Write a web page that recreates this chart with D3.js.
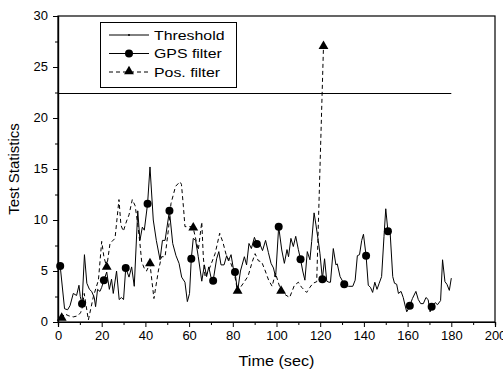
<!DOCTYPE html>
<html><head><meta charset="utf-8">
<script src="https://cdn.jsdelivr.net/npm/d3@7"></script>
<style>body{margin:0;background:#fff}svg{display:block;font-family:"Liberation Sans",Arial,sans-serif}</style>
</head><body><svg id="c" width="503" height="370"></svg>
<script>
const xTicks = [0,20,40,60,80,100,120,140,160,180,200];
const yTicks = [0,5,10,15,20,25,30];
const thresholdValue = 22.4;
const thresholdRange = [0,180];
const gpsT = [1,3,4.4,5.5,7,8.5,9.6,10.2,11,12.1,13.2,14.4,15.4,16.6,17.2,18.1,19.2,20,21,22.3,23.5,24.5,25.3,26.8,28,29,30,31,32.5,33.7,34.9,36.5,37.5,38.6,39.5,41,42.1,43.6,45,46.7,47.8,49,51,52.5,54,55.4,56.6,58.1,59.2,60.2,61,61.9,63,64.2,65.8,67,68,69,70,71,72.6,73.6,74.6,76,77.2,78,79.2,80.2,81,82.2,83.5,85.3,86.3,87.4,88.5,89.9,91,92.3,93.6,95,96.3,97.5,98.6,99.6,101,102.4,103.6,104.8,105.5,106.6,107.7,108.8,110,111,112,113,114.1,115.3,116.1,117.2,118,119.1,119.9,121,122,123,124,124.7,126,127.2,127.8,129.1,130,131,133,134.9,136,137,138,139,139.8,141,142,143,144,145,146,147,148.1,149.2,150,151,152,153.2,154,155,155.8,157,158,158.8,159.6,160.4,161,162.2,163.8,164.9,166,167.2,168.4,169.4,170.3,171,172.6,173.7,175.1,176,177.1,178,179.1,180];
const gpsV = [5.5,1.3,1.2,1.6,2.8,2.6,3.6,2.5,1.8,6.6,3.8,3.2,3.0,2.4,1.5,3.2,3.0,3.4,4.1,4.9,3.2,4.2,2.8,5.0,2.2,2.4,2.2,5.3,4.4,5.4,3.5,10.9,8.0,9.3,9.0,11.6,15.2,10.0,8.0,6.1,8.0,8.0,10.9,7.7,6.5,5.75,4.4,3.9,2.0,2.8,6.2,8.2,8.0,6.4,4.0,5.6,4.45,5.4,4.4,4.05,6.2,6.9,5.6,5.6,6.5,6.0,6.6,5.3,4.9,3.0,5.0,6.4,5.6,7.7,7.2,8.3,7.65,7.7,7.0,8.0,6.8,5.75,5.3,4.4,9.35,7.06,5.75,7.1,6.4,8.2,7.4,8.4,7.1,6.15,5.0,4.1,6.9,6.1,7.9,10.7,9.6,8.0,6.7,4.2,6.2,4.0,3.9,3.9,7.2,5.6,5.7,4.45,4.1,3.7,3.5,3.5,4.1,6.5,6.6,8.0,8.6,6.5,3.6,3.4,2.9,3.9,3.2,3.8,4.45,8.4,11.1,8.9,8.8,4.45,3.8,3.7,2.8,3.0,2.4,1.67,1.0,1.3,1.6,2.3,3.0,2.2,1.8,1.8,2.4,2.2,1.0,1.5,1.9,1.7,2.1,6.1,3.95,3.7,3.1,4.3];
const gpsMarkerT = [1,11,21,31,41,51,61,71,81,91,101,111,121,131,141,151,161,171];
const posT = [1.7,3,5,7,9,10.3,11,12,13.9,16.2,18.5,20,21,22.3,23.8,26.1,27.9,28.8,29.9,31.4,32.5,34,35.3,36.5,37.5,38.3,39.8,40.5,42.1,43.9,46,47.4,49,50.5,51.7,53.8,55.8,56.5,57.4,58.1,61.2,61.9,64.2,65.8,66.5,67.3,69.6,71.9,74,75.5,77.2,78.7,80.7,82.2,85.3,87,88.9,90.2,91.7,93.2,94.7,96.4,98,99.5,102.1,104.2,106,108.2,110,111.5,113.8,115.3,116.7,118.4,121.5];
const posV = [0.35,0.8,0.6,0.5,0.6,0.9,1.3,2.8,0.2,2.5,4.1,7.9,6.4,5.36,7.7,8.2,12.0,9.5,8.9,9.9,10.5,12.0,11.4,9.6,7.7,5.9,5.1,5.0,5.7,2.3,5.1,6.4,6.4,9.0,11.6,13.3,13.75,13.5,11.3,9.35,9.35,9.2,7.06,9.8,6.4,4.4,5.4,6.7,8.7,7.8,6.4,6.0,4.8,3.0,3.95,4.5,5.9,6.7,6.0,5.9,5.1,4.1,3.5,4.8,3.0,2.65,2.4,3.6,3.9,3.4,2.9,3.4,3.8,3.95,27];
const posMarkerT = [1.7,22.3,42.1,61.9,82.2,102.1,121.5];
const legendLabels = ["Threshold","GPS filter","Pos. filter"];

const svg = d3.select("#c");
const L=58, R=495, T=16, B=322;
const x = d3.scaleLinear().domain([0,200]).range([L,R]);
const y = d3.scaleLinear().domain([0,30]).range([B,T]);

function stretch(sel, f){
  sel.each(function(){
    const w = this.getComputedTextLength();
    d3.select(this).attr("textLength", w*f).attr("lengthAdjust","spacingAndGlyphs");
  });
}

svg.append("rect").attr("x",L).attr("y",T).attr("width",R-L).attr("height",B-T).attr("fill","none").attr("stroke","#000").attr("stroke-width",1.2);

const xAx = svg.append("g").attr("transform",`translate(0,${B})`)
  .call(d3.axisBottom(x).tickValues(xTicks).tickSize(5).tickPadding(4).tickFormat(d3.format("d")));
svg.append("g").attr("transform",`translate(0,${B})`)
  .call(d3.axisBottom(x).tickValues(d3.range(10,200,20)).tickSize(3).tickFormat(""));
const yAx = svg.append("g").attr("transform",`translate(${L},0)`)
  .call(d3.axisLeft(y).tickValues(yTicks).tickSize(5).tickPadding(5).tickFormat(d3.format("d")));
svg.append("g").attr("transform",`translate(${L},0)`)
  .call(d3.axisLeft(y).tickValues(d3.range(2.5,30,5)).tickSize(3).tickFormat(""));
svg.selectAll(".domain").attr("stroke","#000").attr("stroke-width",1.2);
svg.selectAll(".tick line").attr("stroke","#000");
svg.selectAll(".tick text").attr("font-size",12).attr("font-family","Liberation Sans, Arial, sans-serif").attr("fill","#000");
stretch(xAx.selectAll(".tick text"), 1.08);
stretch(yAx.selectAll(".tick text"), 1.08);

const xt = svg.append("text").attr("x",(L+R)/2).attr("y",366).attr("text-anchor","middle").attr("font-size",15).text("Time (sec)");
stretch(xt, 1.08);
svg.append("text").attr("transform",`translate(19,${(T+B)/2}) rotate(-90)`).attr("text-anchor","middle").attr("font-size",15).text("Test Statistics");

svg.append("line").attr("x1",x(thresholdRange[0])).attr("x2",x(thresholdRange[1]))
  .attr("y1",y(thresholdValue)).attr("y2",y(thresholdValue)).attr("stroke","#000").attr("stroke-width",1.2);

const line = d3.line().x(d=>x(d[0])).y(d=>y(d[1]));
const gps = gpsT.map((t,i)=>[t,gpsV[i]]);
const pos = posT.map((t,i)=>[t,posV[i]]);

svg.append("path").datum(pos).attr("d",line).attr("fill","none").attr("stroke","#000").attr("stroke-width",1).attr("stroke-dasharray","4,3");
svg.append("path").datum(gps).attr("d",line).attr("fill","none").attr("stroke","#000").attr("stroke-width",1);

const tri = d3.symbol().type(d3.symbolTriangle).size(42);
svg.selectAll(".gm").data(gps.filter(d=>gpsMarkerT.includes(d[0]))).join("circle")
  .attr("cx",d=>x(d[0])).attr("cy",d=>y(d[1])).attr("r",4).attr("fill","#000");
svg.selectAll(".pm").data(pos.filter(d=>posMarkerT.includes(d[0]))).join("path")
  .attr("d",tri).attr("transform",d=>`translate(${x(d[0])},${y(d[1])-0.5})`).attr("fill","#000");

const lg = svg.append("g");
lg.append("rect").attr("x",100.5).attr("y",22.5).attr("width",136).attr("height",65).attr("fill","#fff").attr("stroke","#000").attr("stroke-width",1);
const rows=[35,53.5,72];
legendLabels.forEach((lab,i)=>{
  lg.append("line").attr("x1",109).attr("x2",149).attr("y1",rows[i]).attr("y2",rows[i]).attr("stroke","#000")
    .attr("stroke-width",1).attr("stroke-dasharray",i===2?"4,3":null);
  if(i===0) lg.append("circle").attr("cx",129).attr("cy",rows[i]).attr("r",1).attr("fill","#000");
  if(i===1) lg.append("circle").attr("cx",129).attr("cy",rows[i]).attr("r",4).attr("fill","#000");
  if(i===2) lg.append("path").attr("d",tri).attr("transform",`translate(129,${rows[i]-0.5})`).attr("fill","#000");
  const t = lg.append("text").attr("x",154).attr("y",rows[i]+4.7).attr("font-size",13).text(lab);
  stretch(t, 1.22);
});
</script></body></html>
